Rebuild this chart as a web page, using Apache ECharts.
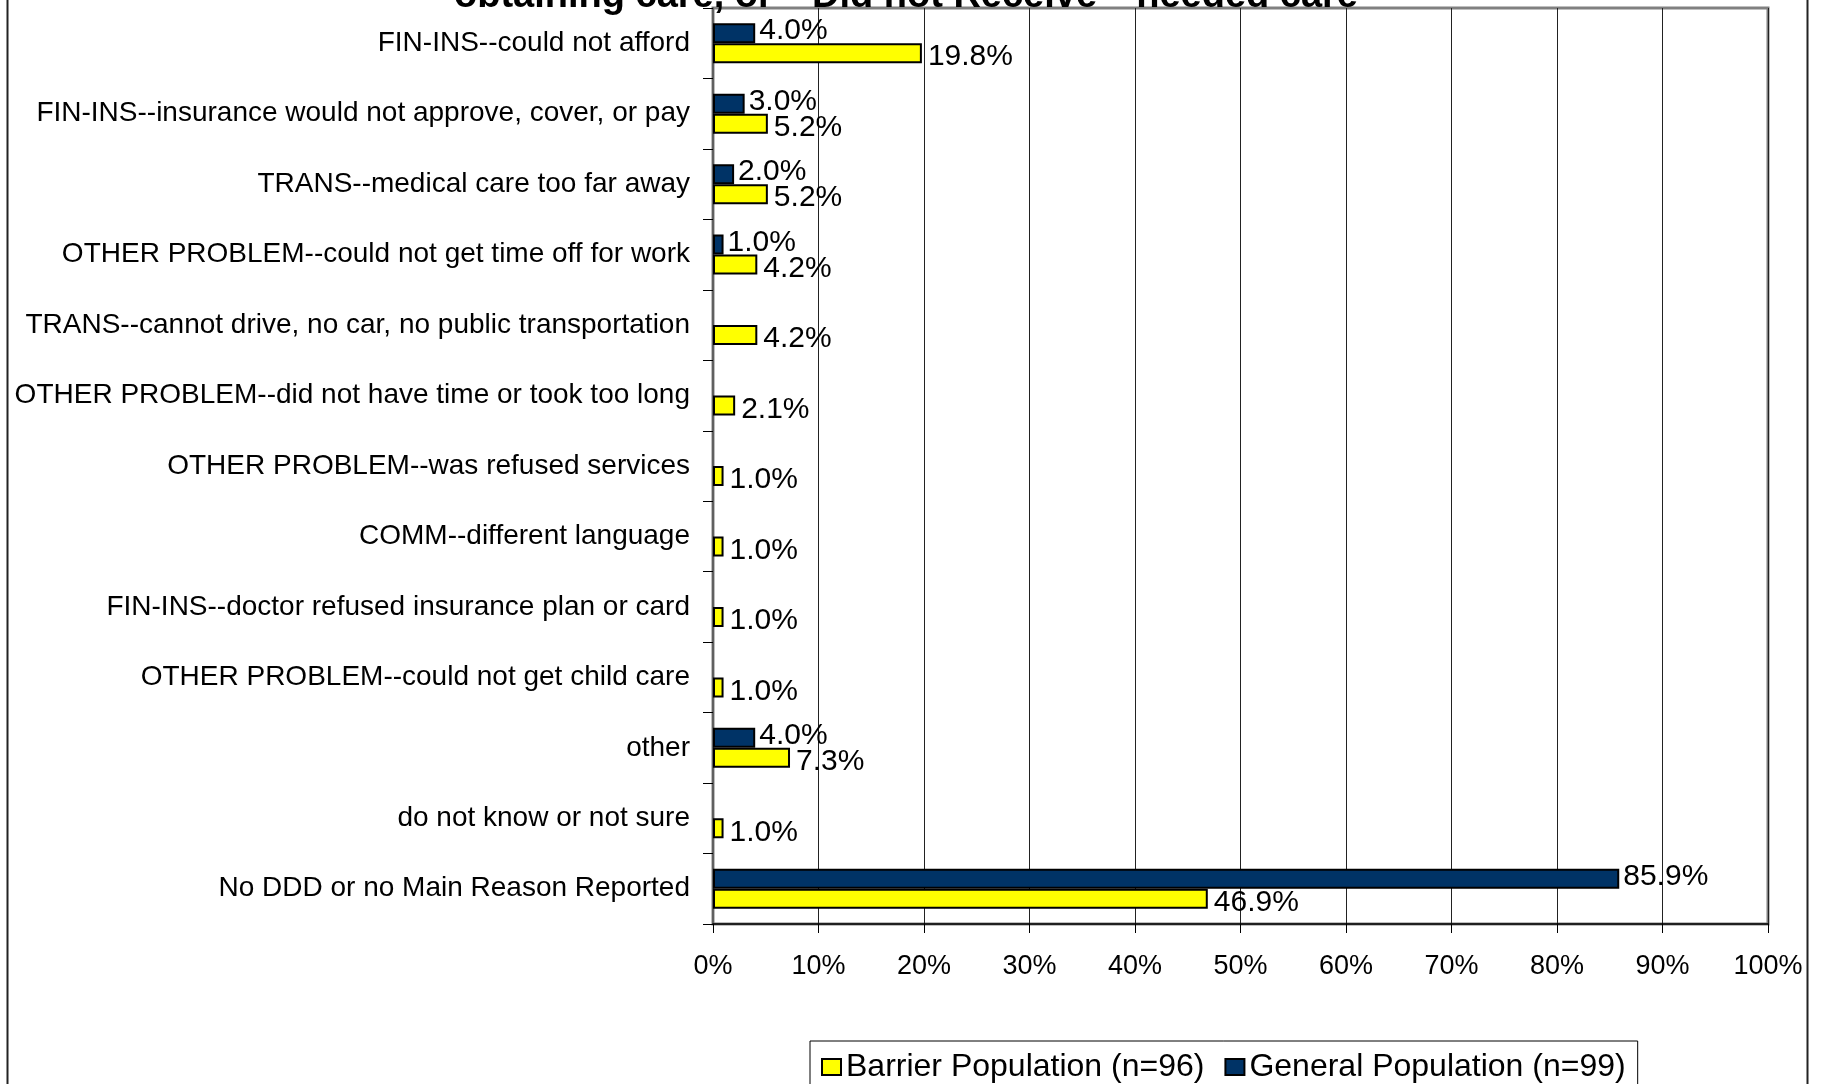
<!DOCTYPE html>
<html>
<head>
<meta charset="utf-8">
<script src="https://cdn.jsdelivr.net/npm/echarts@6/dist/echarts.min.js"></script>
<style>
html,body{margin:0;padding:0;background:#fff;}
#chart{width:1824px;height:1084px;}
</style>
</head>
<body>
<div id="chart"></div>
<script>
var titleText = 'obtaining care, or  "Did not Receive"  needed care';
var categories = [
  'FIN-INS--could not afford',
  'FIN-INS--insurance would not approve, cover, or pay',
  'TRANS--medical care too far away',
  'OTHER PROBLEM--could not get time off for work',
  'TRANS--cannot drive, no car, no public transportation',
  'OTHER PROBLEM--did not have time or took too long',
  'OTHER PROBLEM--was refused services',
  'COMM--different language',
  'FIN-INS--doctor refused insurance plan or card',
  'OTHER PROBLEM--could not get child care',
  'other',
  'do not know or not sure',
  'No DDD or no Main Reason Reported'
];
var barrierName = 'Barrier Population (n=96)';
var generalName = 'General Population (n=99)';
var barrierValues = [19.8, 5.2, 5.2, 4.2, 4.2, 2.1, 1.0, 1.0, 1.0, 1.0, 7.3, 1.0, 46.9];
var generalValues = [4.0, 3.0, 2.0, 1.0, null, null, null, null, null, null, 4.0, null, 85.9];
var xTicks = [0, 10, 20, 30, 40, 50, 60, 70, 80, 90, 100];

var FONT = 'Liberation Sans, Arial, sans-serif';
var chart = echarts.init(document.getElementById('chart'));

function lbl(p) { return p.value == null ? '' : Number(p.value).toFixed(1) + '%'; }

chart.setOption({
  animation: false,
  backgroundColor: '#fff',
  textStyle: { fontFamily: FONT },
  graphic: [
    { type: 'rect', silent: true, z: -1,
      shape: { x: 7.5, y: -20, width: 1800, height: 1200 },
      style: { fill: 'none', stroke: '#222', lineWidth: 2 } },
    { type: 'text', silent: true, x: 906, y: 16,
      style: { text: titleText, font: 'bold 38px ' + FONT, fill: '#000',
        textAlign: 'center', textVerticalAlign: 'bottom' } }
  ],
  grid: {
    left: 713, right: 56, top: 8, bottom: 160,
    show: true, borderColor: '#808080', borderWidth: 3, backgroundColor: '#fff'
  },
  legend: {
    data: [barrierName, generalName],
    left: 810, top: 1041,
    padding: [10, 12, 12, 11],
    itemGap: 20,
    itemWidth: 19, itemHeight: 16,
    borderColor: '#000', borderWidth: 1,
    icon: 'rect',
    itemStyle: { borderColor: '#000', borderWidth: 2 },
    textStyle: { fontSize: 32, color: '#000', fontFamily: FONT }
  },
  xAxis: {
    type: 'value', min: 0, max: 100, interval: 10,
    axisLine: { show: true, lineStyle: { color: '#000', width: 1.5 } },
    axisTick: { show: true, length: 9, lineStyle: { color: '#000' } },
    splitLine: { show: true, lineStyle: { color: '#222', width: 1 } },
    axisLabel: { formatter: '{value}%', fontSize: 27, color: '#000', margin: 29, fontFamily: FONT }
  },
  yAxis: {
    type: 'category', data: categories, inverse: true,
    axisLine: { show: true, lineStyle: { color: '#606060', width: 2 } },
    axisTick: { show: true, length: 10, interval: 0, lineStyle: { color: '#000' } },
    axisLabel: { fontSize: 28, color: '#000', margin: 23, interval: 0, fontFamily: FONT }
  },
  series: [
    { name: generalName, type: 'bar', data: generalValues,
      barWidth: 20, barGap: '0%',
      itemStyle: { color: '#003366', borderColor: '#000', borderWidth: 2 },
      label: { show: true, position: 'right', distance: 4, offset: [0, -2],
        formatter: lbl, fontSize: 30, color: '#000', fontFamily: FONT } },
    { name: barrierName, type: 'bar', data: barrierValues,
      barWidth: 20, barGap: '0%',
      itemStyle: { color: '#FFFF00', borderColor: '#000', borderWidth: 2 },
      label: { show: true, position: 'right', distance: 6, offset: [0, 4],
        formatter: lbl, fontSize: 30, color: '#000', fontFamily: FONT } }
  ]
});
</script>
</body>
</html>
